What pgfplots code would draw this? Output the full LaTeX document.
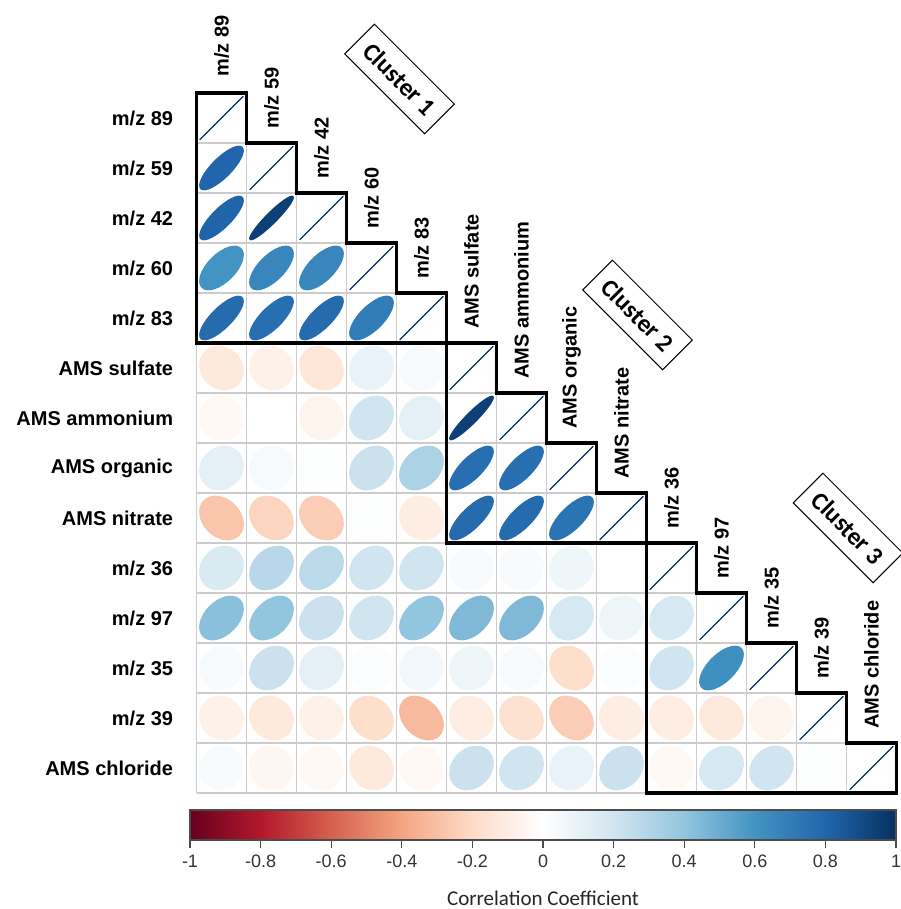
\documentclass[border=0pt]{standalone}
\usepackage{fontspec}
\setmainfont{Liberation Sans}
\newfontfamily\carlito{Carlito}
\usepackage{pgfplots}
\usepackage{pgfplotstable}
\pgfplotsset{compat=1.18}

\pgfplotstableread{
x y r
1 1 1
2 2 1
3 3 1
4 4 1
5 5 1
6 6 1
7 7 1
8 8 1
9 9 1
10 10 1
11 11 1
12 12 1
13 13 1
14 14 1
1 2 0.80
1 3 0.81
2 3 0.94
1 4 0.60
2 4 0.66
3 4 0.66
1 5 0.78
2 5 0.76
3 5 0.78
4 5 0.70
1 6 -0.12
2 6 -0.08
3 6 -0.14
4 6 0.10
5 6 0.04
1 7 -0.04
2 7 0.00
3 7 -0.06
4 7 0.20
5 7 0.12
6 7 0.94
1 8 0.12
2 8 0.04
3 8 0.01
4 8 0.22
5 8 0.32
6 8 0.76
7 8 0.76
1 9 -0.28
2 9 -0.22
3 9 -0.25
4 9 0.01
5 9 -0.10
6 9 0.78
7 9 0.78
8 9 0.74
1 10 0.16
2 10 0.28
3 10 0.27
4 10 0.20
5 10 0.20
6 10 0.03
7 10 0.03
8 10 0.07
9 10 0.00
1 11 0.42
2 11 0.40
3 11 0.22
4 11 0.20
5 11 0.40
6 11 0.45
7 11 0.45
8 11 0.18
9 11 0.08
10 11 0.18
1 12 0.04
2 12 0.22
3 12 0.12
4 12 0.02
5 12 0.06
6 12 0.08
7 12 0.04
8 12 -0.18
9 12 0.02
10 12 0.20
11 12 0.62
1 13 -0.08
2 13 -0.12
3 13 -0.08
4 13 -0.18
5 13 -0.32
6 13 -0.10
7 13 -0.16
8 13 -0.25
9 13 -0.10
10 13 -0.10
11 13 -0.12
12 13 -0.06
1 14 0.03
2 14 -0.05
3 14 -0.03
4 14 -0.12
5 14 -0.04
6 14 0.22
7 14 0.20
8 14 0.10
9 14 0.22
10 14 -0.03
11 14 0.18
12 14 0.20
13 14 0.01
}\corrdata

% ellipse whose shape follows the correlation r = meta (meta range -1..1 -> 0..1000)
\pgfdeclareplotmark{correll}{%
  \pgfmathsetmacro{\corrR}{min(max(\pgfplotspointmetatransformed/500-1,-1),1)}%
  \pgfmathsetlengthmacro{\ellA}{10.9pt*sqrt(1+\corrR)}%
  \pgfmathsetlengthmacro{\ellB}{10.9pt*sqrt(max(1-\corrR,0))}%
  \pgftransformrotate{45}%
  \pgfpathellipse{\pgfpointorigin}{\pgfqpoint{\ellA}{0pt}}{\pgfqpoint{0pt}{\ellB}}%
  \pgfusepathqfillstroke
}

\tikzset{
  gridc/.style={draw=black!20, line width=0.9pt},
  clus/.style={draw=black, line width=1.6pt, line join=miter},
  collab/.style={rotate=90, anchor=west, inner sep=0pt, font=\fontsize{10}{12}\selectfont\bfseries},
  clusbox/.style={draw=black, line width=0.5pt, rotate=-45, font=\carlito\bfseries\fontsize{12.5}{14}\selectfont, minimum width=56.5pt, minimum height=21pt, inner sep=0pt},
}

\begin{document}
\begin{tikzpicture}
\useasboundingbox (0,0) rectangle (450pt,454.5pt);
\begin{axis}[
  at={(98.25pt,58pt)}, anchor=south west,
  width=350pt, height=350pt, scale only axis,
  xmin=0.5, xmax=14.5, ymin=0.5, ymax=14.5, y dir=reverse,
  clip=false,
  axis line style={draw=none},
  xtick=\empty,
  ytick={1,2,3,4,5,6,7,8,9,10,11,12,13,14},
  yticklabels={m/z 89, m/z 59, m/z 42, m/z 60, m/z 83, AMS sulfate, AMS ammonium, AMS organic, AMS nitrate, m/z 36, m/z 97, m/z 35, m/z 39, AMS chloride},
  yticklabel style={font=\fontsize{10}{12}\selectfont\bfseries, inner sep=0pt, xshift=-11.5pt},
  major tick length=0pt,
  colormap={corr}{rgb255=(103,0,31) rgb255=(178,24,43) rgb255=(214,96,77) rgb255=(244,165,130) rgb255=(253,219,199) rgb255=(255,255,255) rgb255=(209,229,240) rgb255=(146,197,222) rgb255=(67,147,195) rgb255=(33,102,172) rgb255=(5,48,97)},
  point meta min=-1, point meta max=1,
  colorbar horizontal,
  colorbar style={
    at={(parent axis.south west)},
    anchor=north west,
    xshift=-3.25pt, yshift=0pt,
    width=353pt, height=15pt, scale only axis,
    axis line style={draw=black!70, line width=0.6pt},
    xtick={-1,-0.8,-0.6,-0.4,-0.2,0,0.2,0.4,0.6,0.8,1},
    xticklabels={-1,-0.8,-0.6,-0.4,-0.2,0,0.2,0.4,0.6,0.8,1},
    xticklabel style={font=\fontsize{9}{10}\selectfont, text=black!80},
    xtick pos=left,
    tick align=outside,
    major tick length=4pt,
    xtick style={draw=black!70, line width=0.6pt},
    xlabel={\carlito Correlation Coefficient},
    xlabel style={font=\fontsize{10.5}{12}\selectfont, at={(axis description cs:0.5,0)}, anchor=center, yshift=-29pt, text=black!85},
  },
]
% grid lines of the lower triangle
\pgfplotsinvokeforeach{1,...,14}{
  \draw[gridc] (axis cs:0.5,#1+0.5) -- (axis cs:{min(#1+1,14)+0.5},#1+0.5);
  \draw[gridc] (axis cs:#1+0.5,#1-0.5) -- (axis cs:#1+0.5,14.5);
}
\draw[gridc] (axis cs:0.5,0.5) -- (axis cs:1.5,0.5);
\draw[gridc] (axis cs:0.5,0.5) -- (axis cs:0.5,14.5);

\addplot[scatter, only marks, mark=correll,
  point meta=explicit,
  mark options={line width=0.55pt},
  scatter/use mapped color={draw=mapped color, fill=mapped color},
] table[x=x, y=y, meta=r] {\corrdata};

% cluster outlines
\draw[clus] (axis cs:0.5,0.5) -- (axis cs:1.5,0.5) -- (axis cs:1.5,1.5) -- (axis cs:2.5,1.5) -- (axis cs:2.5,2.5) -- (axis cs:3.5,2.5) -- (axis cs:3.5,3.5) -- (axis cs:4.5,3.5) -- (axis cs:4.5,4.5) -- (axis cs:5.5,4.5) -- (axis cs:5.5,5.5) -- (axis cs:0.5,5.5) -- cycle;
\draw[clus] (axis cs:5.5,5.5) -- (axis cs:6.5,5.5) -- (axis cs:6.5,6.5) -- (axis cs:7.5,6.5) -- (axis cs:7.5,7.5) -- (axis cs:8.5,7.5) -- (axis cs:8.5,8.5) -- (axis cs:9.5,8.5) -- (axis cs:9.5,9.5) -- (axis cs:5.5,9.5) -- cycle;
\draw[clus] (axis cs:9.5,9.5) -- (axis cs:10.5,9.5) -- (axis cs:10.5,10.5) -- (axis cs:11.5,10.5) -- (axis cs:11.5,11.5) -- (axis cs:12.5,11.5) -- (axis cs:12.5,12.5) -- (axis cs:13.5,12.5) -- (axis cs:13.5,13.5) -- (axis cs:14.5,13.5) -- (axis cs:14.5,14.5) -- (axis cs:9.5,14.5) -- cycle;

% column labels
\node[collab] at ([yshift=8pt]axis cs:1,0.5) {m/z 89};
\node[collab] at ([yshift=7pt]axis cs:2,1.5) {m/z 59};
\node[collab] at ([yshift=7pt]axis cs:3,2.5) {m/z 42};
\node[collab] at ([yshift=7pt]axis cs:4,3.5) {m/z 60};
\node[collab] at ([yshift=7pt]axis cs:5,4.5) {m/z 83};
\node[collab] at ([yshift=7pt]axis cs:6,5.5) {AMS sulfate};
\node[collab] at ([yshift=7pt]axis cs:7,6.5) {AMS ammonium};
\node[collab] at ([yshift=7pt]axis cs:8,7.5) {AMS organic};
\node[collab] at ([yshift=7pt]axis cs:9,8.5) {AMS nitrate};
\node[collab] at ([yshift=7pt]axis cs:10,9.5) {m/z 36};
\node[collab] at ([yshift=7pt]axis cs:11,10.5) {m/z 97};
\node[collab] at ([yshift=7pt]axis cs:12,11.5) {m/z 35};
\node[collab] at ([yshift=7pt]axis cs:13,12.5) {m/z 39};
\node[collab] at ([yshift=7pt]axis cs:14,13.5) {AMS chloride};

% cluster labels
\node[clusbox] at (axis cs:4.56,0.22) {Cluster 1};
\node[clusbox] at (axis cs:9.32,4.94) {Cluster 2};
\node[clusbox] at (axis cs:13.53,9.2) {Cluster 3};
\end{axis}
\end{tikzpicture}
\end{document}
